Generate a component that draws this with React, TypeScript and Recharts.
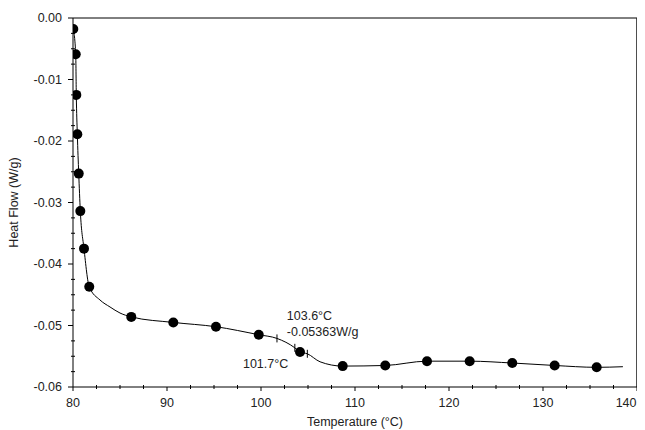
import React from 'react';
import { ComposedChart, Line, Scatter, XAxis, YAxis, ReferenceLine, Label } from 'recharts';

// Marker points (filled circles)
const markerTemps = [80.03, 80.29, 80.35, 80.46, 80.61, 80.78, 81.17, 81.73, 86.2, 90.67, 95.21, 99.76, 104.15, 108.69, 113.22, 117.66, 122.2, 126.73, 131.24, 135.71];
const markerFlows = [-0.0018, -0.0059, -0.0125, -0.0189, -0.0253, -0.0314, -0.0375, -0.0437, -0.0486, -0.0495, -0.0502, -0.0515, -0.0543, -0.0566, -0.0565, -0.0558, -0.0558, -0.0561, -0.0565, -0.0568];

// Continuous trace
const curveTemps = [80.03, 80.29, 80.35, 80.46, 80.61, 80.78, 81.17, 81.73, 82.87, 83.94, 85.0, 86.2, 90.67, 95.21, 99.76, 101.7, 103.6, 104.15, 104.93, 106.28, 108.69, 113.22, 117.66, 122.2, 126.73, 131.24, 135.71, 138.5];
const curveFlows = [-0.0018, -0.0059, -0.0125, -0.0189, -0.0253, -0.0314, -0.0375, -0.0437, -0.04585, -0.04699, -0.04797, -0.0486, -0.0495, -0.0502, -0.0515, -0.0521, -0.05363, -0.0543, -0.0546, -0.0559, -0.0566, -0.0565, -0.0558, -0.0558, -0.0561, -0.0565, -0.0568, -0.0567];

// Transition marks and their annotations
const crossTemps = [101.7, 103.6, 104.93];
const crossFlows = [-0.0521, -0.05363, -0.0546];
const crossLabels = [['101.7°C'], ['103.6°C', '-0.05363W/g'], []];

// Axis ticks
const xTicks = [80, 82.5, 85, 87.5, 90, 92.5, 95, 97.5, 100, 102.5, 105, 107.5, 110, 112.5, 115, 117.5, 120, 122.5, 125, 127.5, 130, 132.5, 135, 137.5, 140];
const yTicks = [0, -0.0025, -0.005, -0.0075, -0.01, -0.0125, -0.015, -0.0175, -0.02, -0.0225, -0.025, -0.0275, -0.03, -0.0325, -0.035, -0.0375, -0.04, -0.0425, -0.045, -0.0475, -0.05, -0.0525, -0.055, -0.0575, -0.06];

const xTitle = 'Temperature (°C)';
const yTitle = 'Heat Flow (W/g)';

const markerData = markerTemps.map((t, i) => ({ t, hf: markerFlows[i] }));
const curveData = curveTemps.map((t, i) => ({ t, hf: curveFlows[i] }));
const crossData = crossTemps.map((t, i) => ({ t, hf: crossFlows[i], labels: crossLabels[i] }));

const FONT = '"Liberation Sans", Arial, sans-serif';
const FS = 12.5;
const TXT = '#222';

const X_TICK_SIZE = 4;
const X_TICK_MARGIN = 7;
const Y_TICK_SIZE = 5;
const Y_TICK_MARGIN = 6;

const isMajorX = (v: number) => Math.abs(v % 10) < 1e-6;
const isMajorY = (v: number) => Math.abs(Math.round(v * 100) - v * 100) < 1e-6;
const X_MAX = xTicks[xTicks.length - 1];

const XTick = (props: any) => {
  const { x, y, payload } = props;
  const v = payload.value as number;
  const axisY = y - X_TICK_SIZE - X_TICK_MARGIN;
  const major = isMajorX(v);
  const last = v === X_MAX;
  return (
    <g>
      <line x1={x} x2={x} y1={major ? axisY : axisY - 2} y2={major ? axisY + 4 : axisY + 2} stroke="#000" strokeWidth={1} />
      {major && (
        <text
          x={last ? x - 0.5 : x}
          y={y}
          dy="0.71em"
          textAnchor={last ? 'end' : 'middle'}
          fontFamily={FONT}
          fontSize={FS}
          fill={TXT}
        >
          {String(v)}
        </text>
      )}
    </g>
  );
};

const YTick = (props: any) => {
  const { x, y, payload } = props;
  const v = payload.value as number;
  const axisX = x + Y_TICK_SIZE + Y_TICK_MARGIN;
  const major = isMajorY(v);
  return (
    <g>
      <line x1={major ? axisX - 5 : axisX - 2} x2={major ? axisX : axisX + 2} y1={y} y2={y} stroke="#000" strokeWidth={1} />
      {major && (
        <text x={x} y={y} dy="0.355em" textAnchor="end" fontFamily={FONT} fontSize={FS} fill={TXT}>
          {v === 0 ? '0.00' : v.toFixed(2)}
        </text>
      )}
    </g>
  );
};

const Dot = (p: any) => <circle cx={p.cx} cy={p.cy} r={5} fill="#000" />;

const labelOffsets: { dx: number; dy: number }[][] = [
  [{ dx: -34, dy: 30 }],
  [{ dx: -8, dy: -28 }, { dx: -8, dy: -12 }],
  [],
];

const Cross = (p: any) => {
  const { cx, cy, payload, index } = p;
  const labels: string[] = payload?.labels || [];
  const offs = labelOffsets[index] || [];
  return (
    <g>
      <line x1={cx} x2={cx} y1={cy - 4} y2={cy + 4} stroke="#000" strokeWidth={1} />
      {labels.map((s, i) => (
        <text key={i} x={cx + (offs[i]?.dx ?? 0)} y={cy + (offs[i]?.dy ?? 0)} fontFamily={FONT} fontSize={FS} fill={TXT}>
          {s}
        </text>
      ))}
    </g>
  );
};

const YTitle = (props: any) => {
  const vb = props.viewBox || {};
  const x = (vb.x ?? 0) + 6;
  const y = (vb.y ?? 0) + (vb.height ?? 0) / 2;
  return (
    <text x={x} y={y} transform={`rotate(-90, ${x}, ${y})`} textAnchor="middle" dominantBaseline="central" fontFamily={FONT} fontSize={FS} fill={TXT}>
      {yTitle}
    </text>
  );
};

const XTitle = (props: any) => {
  const vb = props.viewBox || {};
  const x = (vb.x ?? 0) + (vb.width ?? 0) / 2;
  const y = (vb.y ?? 0) + (vb.height ?? 0) - 4;
  return (
    <text x={x} y={y} textAnchor="middle" fontFamily={FONT} fontSize={FS} fill={TXT}>
      {xTitle}
    </text>
  );
};

export default function App() {
  return (
    <div style={{ width: 637, height: 422, background: '#fff' }}>
      <ComposedChart width={637} height={422} margin={{ top: 10, right: 8, left: 0, bottom: 0 }}>
        <XAxis
          dataKey="t"
          type="number"
          domain={[80, 140]}
          ticks={xTicks}
          interval={0}
          allowDataOverflow
          height={43}
          tickSize={X_TICK_SIZE}
          tickMargin={X_TICK_MARGIN}
          tickLine={false}
          tick={<XTick />}
          axisLine={{ stroke: '#000', strokeWidth: 1 }}
        >
          <Label content={<XTitle />} />
        </XAxis>
        <YAxis
          dataKey="hf"
          type="number"
          domain={[-0.06, 0]}
          ticks={yTicks}
          interval={0}
          allowDataOverflow
          width={65}
          tickSize={Y_TICK_SIZE}
          tickMargin={Y_TICK_MARGIN}
          tickLine={false}
          tick={<YTick />}
          axisLine={{ stroke: '#000', strokeWidth: 1 }}
        >
          <Label content={<YTitle />} />
        </YAxis>
        <ReferenceLine y={0} stroke="#000" strokeWidth={1} ifOverflow="visible" />
        <ReferenceLine x={140} stroke="#222" strokeWidth={1.6} ifOverflow="visible" />
        <Line
          data={curveData}
          dataKey="hf"
          type="monotone"
          stroke="#000"
          strokeWidth={1}
          dot={false}
          activeDot={false}
          isAnimationActive={false}
        />
        <Scatter data={markerData} dataKey="hf" shape={<Dot />} isAnimationActive={false} />
        <Scatter data={crossData} dataKey="hf" shape={<Cross />} isAnimationActive={false} />
      </ComposedChart>
    </div>
  );
}
